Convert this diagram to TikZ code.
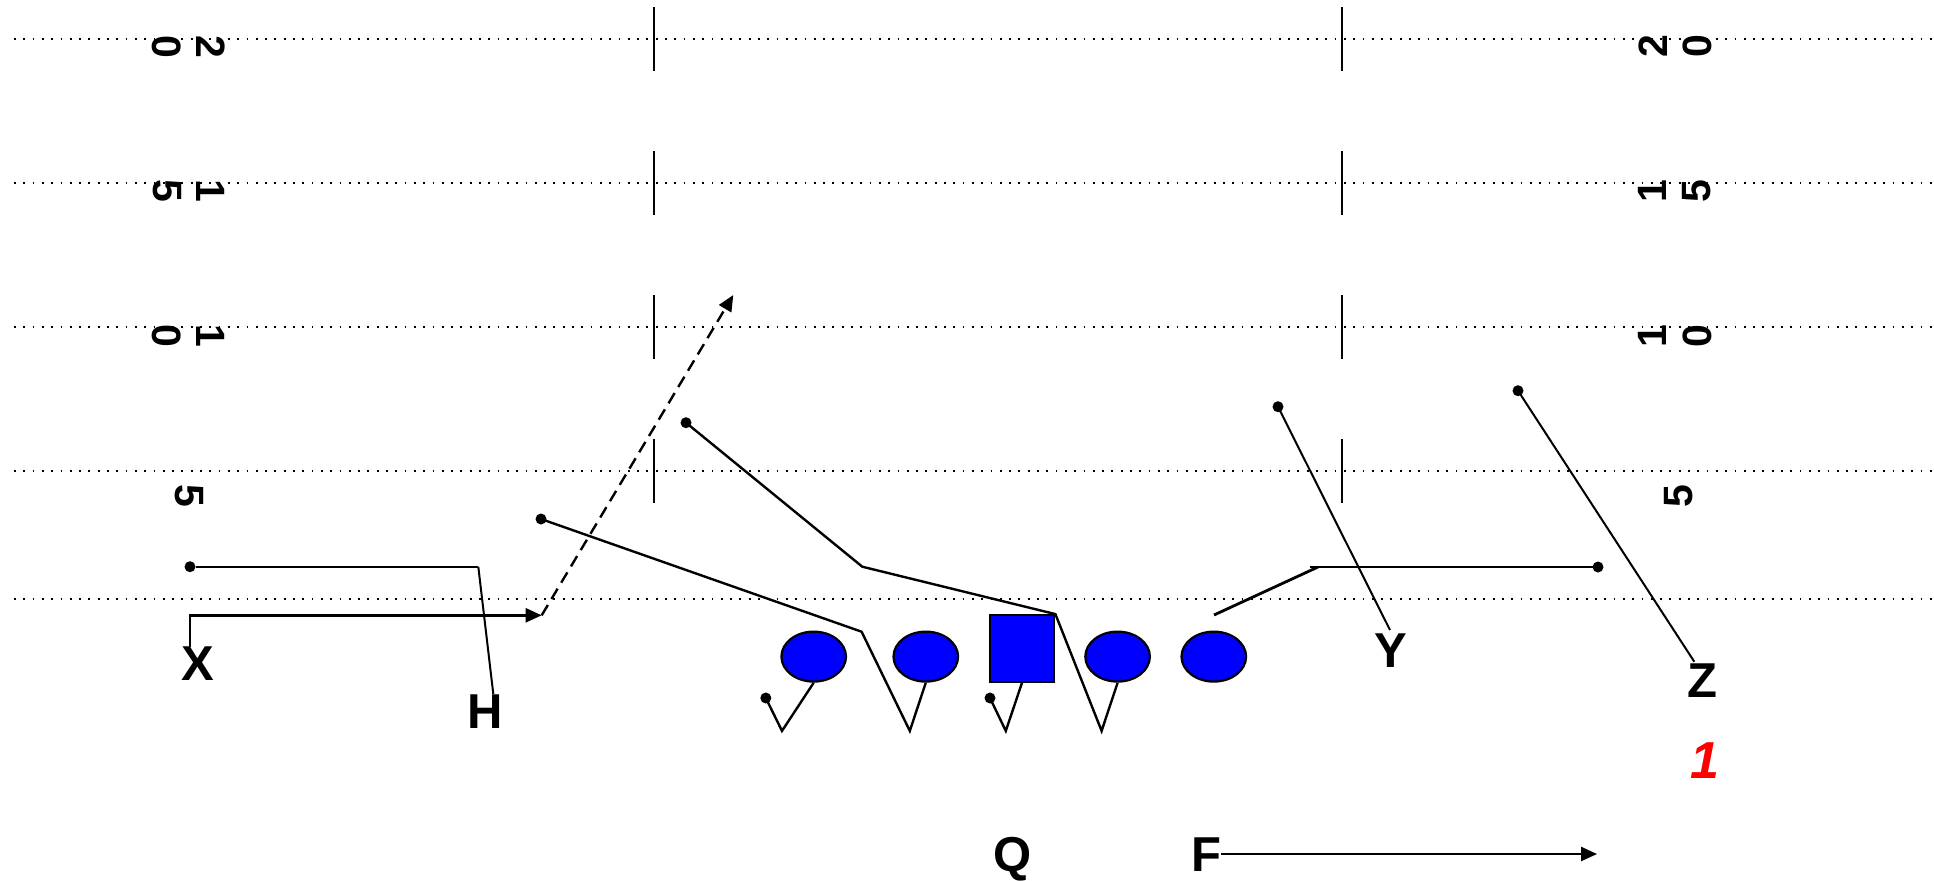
\documentclass[tikz,border=0pt]{standalone}
\usepackage{fontspec}
\setmainfont{Liberation Sans}
\usetikzlibrary{arrows.meta,shapes.geometric}
\begin{document}
\begin{tikzpicture}[x=0.5pt,y=-0.5pt,
 yardline/.style={line width=0.9pt, dash pattern=on 0.9pt off 3.75pt},
 hashmark/.style={line width=1.2pt},
 route/.style={line width=1.2pt},
 thinroute/.style={line width=1pt},
 dashroute/.style={line width=1.2pt, dash pattern=on 6pt off 3.5pt},
 lineman/.style={draw=black, fill=blue, line width=1.1pt, ellipse, minimum width=32.3pt, minimum height=25pt, inner sep=0pt},
 centerbox/.style={draw=black, fill=blue, line width=1.1pt, rectangle, minimum width=32.3pt, minimum height=33.2pt, inner sep=0pt},
 player/.style={font=\bfseries\fontsize{24.5}{24.5}\selectfont, inner sep=0pt, anchor=base},
 yardnum/.style={font=\bfseries\fontsize{20.5}{20.5}\selectfont, inner sep=0pt, anchor=center},
 enddot/.style={circle, fill=black, minimum size=5.5pt, inner sep=0pt},
 arr/.style={-{Triangle[length=8pt,width=7pt]}}
]
\useasboundingbox (0,0) rectangle (1934,880);

% yard lines
\foreach \yy in {39,183,327,471,599} {
  \draw[yardline] (14,\yy) -- (1932,\yy);
}
% hash marks
\foreach \yy in {39,183,327,471} {
  \draw[hashmark] (654,\yy-32) -- (654,\yy+32);
  \draw[hashmark] (1342,\yy-32) -- (1342,\yy+32);
}
% yard numbers left
\node[yardnum, rotate=-90] (l20a) at (167,47) {0};
\node[yardnum, rotate=-90] (l20b) at (211,47) {2};
\node[yardnum, rotate=-90] (l15a) at (167,191) {5};
\node[yardnum, rotate=-90] (l15b) at (211,191) {1};
\node[yardnum, rotate=-90] (l10a) at (167,336) {0};
\node[yardnum, rotate=-90] (l10b) at (211,336) {1};
\node[yardnum, rotate=-90] (l5) at (189,496) {5};
% yard numbers right
\node[yardnum, rotate=90] (r20a) at (1653,46) {2};
\node[yardnum, rotate=90] (r20b) at (1697,46) {0};
\node[yardnum, rotate=90] (r15a) at (1652,191) {1};
\node[yardnum, rotate=90] (r15b) at (1697,191) {5};
\node[yardnum, rotate=90] (r10a) at (1652,336) {1};
\node[yardnum, rotate=90] (r10b) at (1697,336) {0};
\node[yardnum, rotate=90] (r5) at (1679,496) {5};

% linemen
\node[lineman] (lt) at (813.7,656.6) {};
\node[lineman] (lg) at (925.8,656.6) {};
\node[centerbox] (c) at (1022,648.4) {};
\node[lineman] (rg) at (1117.6,656.6) {};
\node[lineman] (rt) at (1213.8,656.6) {};

% skill players
\node[player] (X) at (197.5,680.7) {X};
\node[player] (H) at (485.5,728) {H};
\node[player] (Y) at (1390.5,667.7) {Y};
\node[player] (Z) at (1702,697.3) {Z};
\node[player] (Q) at (1013,871.5) {Q};
\node[player] (F) at (1206,871.5) {F};
\node[player, text=red, font=\bfseries\itshape\fontsize{26}{26}\selectfont] (one) at (1705,778) {1};

% end dots
\node[enddot] (hd) at (190,566.7) {};
\node[enddot] (lgd) at (541,519) {};
\node[enddot] (ltd) at (765.8,698) {};
\node[enddot] (cd) at (990,698) {};
\node[enddot] (cd2) at (686,422.7) {};
\node[enddot] (rtd) at (1598,567) {};
\node[enddot] (yd) at (1278,406.7) {};
\node[enddot] (zd) at (1518,390.7) {};

% route coordinates
\coordinate (xs) at (190,646.7);
\coordinate (xc) at (190,615.3);
\coordinate (xt) at (541.7,615.3);
\coordinate (dt) at (733.3,295);
\coordinate (hc) at (478.3,566.7);
\coordinate (he) at (493.3,694);
\coordinate (ltv) at (782,730.9);
\coordinate (lgc) at (861.6,631.7);
\coordinate (lgv) at (909.8,730.9);
\coordinate (cv) at (1005.8,730.9);
\coordinate (cc) at (862.3,566.7);
\coordinate (rgv) at (1101.6,730.9);
\coordinate (rts) at (1214,615);
\coordinate (rtc) at (1318,567);
\coordinate (rth) at (1310,567);
\coordinate (ye) at (1390,630);
\coordinate (ze) at (1694.3,661.7);
\coordinate (ft) at (1597,854);

% routes
\draw[route, arr] (xs) -- (xc) -- (xt);
\draw[dashroute, arr] (xt) -- (dt);
\draw[route] (hd) -- (hc);
\draw[thinroute] (hc) -- (he);
\draw[route] (lt.south) -- (ltv) -- (ltd.center);
\draw[route] (lgd.center) -- (lgc) -- (lgv) -- (lg.south);
\draw[route] (c.south) -- (cv) -- (cd.center);
\draw[route] (cd2.center) -- (cc) -- (c.north east) -- (rgv) -- (rg.south);
\draw[route, line width=1.4pt] (rts) -- (rtc);
\draw[route] (rth) -- (rtd.center);
\draw[thinroute] (yd.center) -- (ye);
\draw[thinroute] (zd.center) -- (ze);
\draw[route, arr] (F.east |- ft) -- (ft);
\end{tikzpicture}
\end{document}
